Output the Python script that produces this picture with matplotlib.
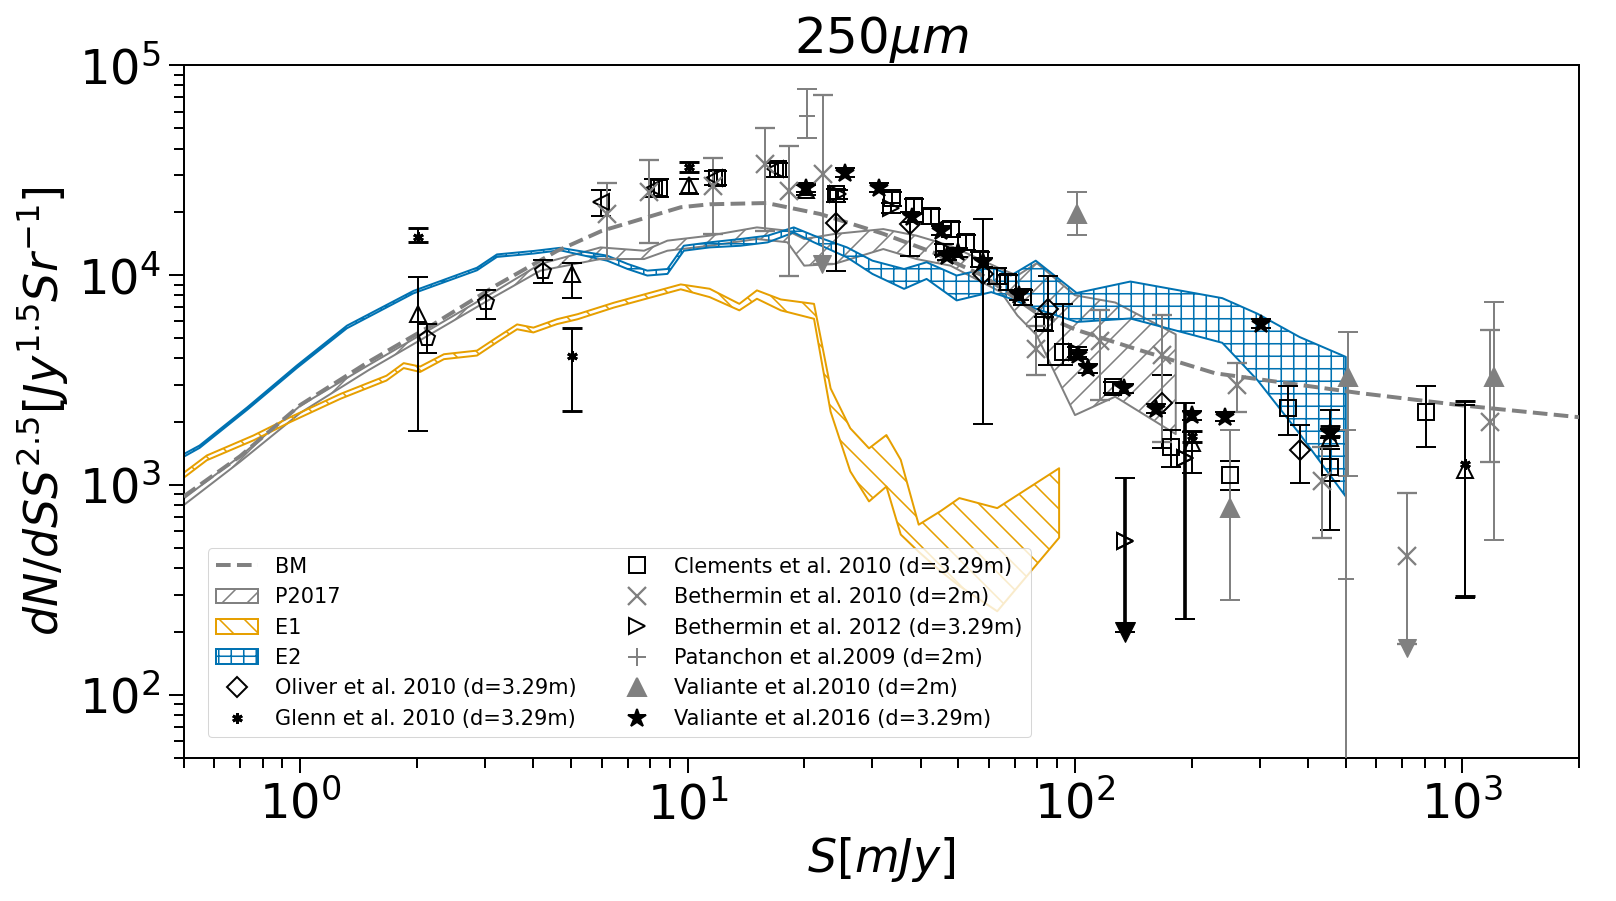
import numpy as np
import matplotlib
matplotlib.use("Agg")
import matplotlib.pyplot as plt
from matplotlib.lines import Line2D

# ---- model curves ----
bm_s = [0.5, 0.7, 1.0, 1.5, 2.2, 3.2, 4.6, 6.0, 9.6, 11.4, 16, 22, 32, 43, 58, 79, 100, 143, 230, 540, 1000, 2000]
bm_n = [880, 1370, 2400, 3850, 5800, 8900, 13000, 16200, 21000, 21700, 22000, 19500, 15700, 12800, 9900, 6650, 5500, 4450, 3400, 2740, 2390, 2100]

p17_s = [0.5, 0.7, 1.0, 1.5, 2.2, 3.16, 4.17, 5.96, 7.72, 8.87, 11.4, 15.1, 18.1, 20, 23.9, 32, 39, 47.7, 64.4, 71, 79.7, 100, 127, 182]
p17_lo = [800, 1290, 2200, 3515, 5300, 7840, 10480, 11910, 11900, 13040, 13770, 14830, 14300, 11070, 11280, 13280, 11900, 11070, 8280, 6410, 5150, 2150, 2630, 1745]
p17_hi = [860, 1370, 2380, 3715, 5600, 8280, 11280, 13520, 13040, 14560, 15380, 16840, 16240, 14830, 15660, 16530, 15380, 13770, 10670, 9930, 11380, 8000, 7390, 5210]

e1_s = [0.5, 0.574, 0.758, 0.942, 1.27, 1.67, 1.85, 2.04, 2.35, 2.86, 3.22, 3.63, 4.0, 4.6, 5.2, 6.45, 9.6, 11.4, 13.6, 15.1, 17.4, 21.2, 23.4, 26.3, 29.4, 32.6, 35.5, 39.5, 45, 50.3, 63, 91]
e1_lo = [1080, 1310, 1630, 1990, 2570, 3140, 3600, 3450, 3970, 4130, 4780, 5510, 5320, 5830, 6150, 6990, 8540, 7840, 6780, 7700, 6780, 6180, 2230, 1160, 834, 982, 580, 480, 388, 330, 250, 560]
e1_hi = [1140, 1380, 1720, 2100, 2710, 3310, 3800, 3660, 4190, 4360, 5040, 5810, 5610, 6150, 6500, 7370, 9010, 8590, 7280, 8440, 7640, 7280, 2880, 1860, 1493, 1727, 1316, 646, 750, 865, 775, 1200]

e2_s = [0.5, 0.55, 0.73, 0.98, 1.32, 1.96, 2.86, 3.22, 4.0, 4.69, 6.2, 7.0, 7.87, 8.87, 9.78, 11.4, 13.7, 16.1, 18.8, 21.2, 25.8, 30, 36.2, 41.4, 49.5, 60.8, 68.3, 79.2, 101, 139, 240, 296, 380, 500]
e2_lo = [1360, 1500, 2280, 3600, 5570, 8170, 10520, 12180, 12640, 13100, 11690, 10670, 9930, 10110, 13040, 13520, 13770, 14290, 15930, 14290, 12120, 10110, 8580, 9570, 7560, 8280, 7700, 6900, 5970, 6200, 4750, 3150, 1750, 880]
e2_hi = [1400, 1540, 2340, 3700, 5730, 8390, 10820, 12520, 13000, 13460, 12350, 11280, 10480, 10670, 13770, 14290, 14830, 15380, 16840, 15380, 13520, 11690, 10670, 11490, 9930, 10870, 9930, 11690, 8200, 9300, 7750, 6530, 5060, 4070]

# ---- measurements: S [mJy], value, lower, upper ----
oli_s = [24.2, 37.6, 58, 85, 168, 380]
oli_n = [17650, 17460, 10110, 6900, 2445, 1465]
oli_lo = [10480, 12350, 1950, 3715, 1493, 1018]
oli_hi = [22130, 19880, 18440, 9860, 3330, 1928]

gle_s = [2.02, 5.04, 10.08, 200, 455, 1014]
gle_n = [15100, 4110, 32800, 1700, 1800, 1253]
gle_lo = [14290, 2245, 31000, 1600, 1700, 295]
gle_hi = [16660, 5600, 34600, 1800, 1900, 2495]

cle_s = [8.46, 11.93, 17.1, 24.2, 33.8, 38.4, 42.5, 47.8, 52.2, 56.7, 63.0, 67, 73.6, 83, 93, 125, 177, 251, 354, 456, 805]
cle_n = [25900, 29100, 31840, 24200, 23120, 21350, 19000, 16530, 14290, 11910, 9930, 9230, 7840, 5970, 4300, 2930, 1520, 1115, 2330, 1222, 2230]
cle_lo = [23390, 26740, 29330, 22290, 21300, 19700, 17500, 15200, 13100, 10900, 9100, 8450, 7150, 5400, 3715, 2750, 1222, 950, 1727, 1040, 1520]
cle_hi = [28580, 31260, 34300, 25770, 24900, 23000, 20500, 17900, 15500, 12900, 10800, 10000, 8500, 6300, 7280, 3100, 1825, 1300, 2965, 1490, 2950]

b10_s = [6.2, 7.93, 11.6, 15.8, 18.3, 22.4, 79.2, 116, 168, 262, 434, 718, 1176]
b10_n = [19490, 24700, 26550, 33640, 25130, 30140, 4450, 4870, 4140, 2985, 1038, 457, 2000]
b10_lo = [11910, 14180, 15660, 16240, 9930, 11280, 3330, 2530, 1607, 2230, 558, 175, 1290]
b10_hi = [27340, 35150, 36060, 50230, 41100, 72300, 5740, 6780, 6410, 3785, 1520, 914, 5480]
b10_lim_s = [22.2, 718]
b10_lim_n = [11280, 168]

b12_s = [24.5, 33.5, 46, 101, 135, 192]
b12_n = [24200, 20940, 13280, 4300, 538, 1340]
b12_lo = [22900, 19800, 12500, 4050, 200, 229]
b12_hi = [25500, 22100, 14100, 4550, 1077, 2450]
b12_lim_s = [135]
b12_lim_n = [200]

pat_s = [20.3, 500]
pat_n = [57400, 356]
pat_lo = [44670, 1]
pat_hi = [76900, 1826]

v10_s = [101, 251, 507, 1206]
v10_n = [19490, 775, 3270, 3270]
v10_lo = [15480, 284, 1100, 548]
v10_hi = [24960, 1825, 5350, 7420]

v16_s = [20.2, 25.5, 31.2, 38, 45.1, 46.8, 50, 58, 71.9, 102, 108, 134, 162, 200, 244, 302, 455]
v16_n = [26080, 30700, 26080, 18790, 16240, 12350, 12800, 11490, 7980, 4170, 3600, 2880, 2310, 2150, 2110, 5850, 1758]

# unlabelled points
tri_s = [2.02, 5.04, 10.08, 20.2, 200, 455, 1014]
tri_n = [6540, 10110, 26740, 25300, 1578, 1680, 1178]
tri_lo = [1800, 7750, 24210, 24000, 1138, 611, 290]
tri_hi = [9815, 11400, 28580, 26700, 1790, 2270, 2400]

pen_s = [2.13, 3.02, 4.24]
pen_n = [5010, 7420, 10480]
pen_lo = [4230, 6140, 9160]
pen_hi = [5810, 8520, 11780]

lt_s = [5.96, 8.2, 11.7, 16.8]
lt_n = [22130, 25900, 29100, 31840]
lt_lo = [19000, 23390, 26740, 29330]
lt_hi = [25410, 28580, 31260, 34300]

GRAY = "#808080"
BLUE = "#0072B2"
ORANGE = "#E69F00"
AST = (6, 2, 0)  # asterisk marker

plt.rcParams["hatch.linewidth"] = 1.5

DPI = 75
fig = plt.figure(figsize=(1616 / DPI, 901 / DPI), dpi=DPI)
ax = fig.add_axes([0.1136, 0.1587, 0.8635, 0.7692])
ax.set_xscale("log")
ax.set_yscale("log")


def band(s, lo, hi, color, hatch, label):
    return ax.fill_between(s, lo, hi, facecolor="none", edgecolor=color,
                           hatch=hatch, lw=1.9, label=label, zorder=2)


def pts(s, n, lo, hi, marker, color, ms=15.5, filled=False, lw=1.9, mew=1.9, z=4):
    s, n, lo, hi = map(np.asarray, (s, n, lo, hi))
    ax.errorbar(s, n, yerr=[n - lo, hi - n], fmt="", marker=marker, linestyle="none",
                color=color, mec=color, mfc=color if filled else "none", ms=ms, mew=mew,
                elinewidth=lw, capsize=10, capthick=lw, zorder=z)


h_p17 = band(p17_s, p17_lo, p17_hi, GRAY, "/", "P2017")
h_e1 = band(e1_s, e1_lo, e1_hi, ORANGE, "\\", "E1")
h_e2 = band(e2_s, e2_lo, e2_hi, BLUE, "+", "E2")
h_bm, = ax.plot(bm_s, bm_n, ls="--", color=GRAY, lw=3.8, zorder=3)

pts(tri_s, tri_n, tri_lo, tri_hi, "^", "k")
pts(pen_s, pen_n, pen_lo, pen_hi, "p", "k")
pts(lt_s, lt_n, lt_lo, lt_hi, "<", "k")
pts(oli_s, oli_n, oli_lo, oli_hi, "D", "k", ms=14)
pts(gle_s, gle_n, gle_lo, gle_hi, AST, "k", ms=10, mew=2.8, filled=True)
pts(cle_s, cle_n, cle_lo, cle_hi, "s", "k")
pts(b10_s, b10_n, b10_lo, b10_hi, "x", GRAY, ms=18, mew=2.2)
ax.plot(b10_lim_s, b10_lim_n, "v", color=GRAY, ms=17, ls="none", zorder=4)
pts(b12_s, b12_n, b12_lo, b12_hi, ">", "k")
pts(b12_s[4:], b12_n[4:], b12_lo[4:], b12_hi[4:], ">", "k", lw=3.5)
ax.plot(b12_lim_s, b12_lim_n, "v", color="k", ms=19, ls="none", zorder=4)
pts(pat_s, pat_n, pat_lo, pat_hi, "+", GRAY, ms=15)
pts(v10_s, v10_n, v10_lo, v10_hi, "^", GRAY, ms=17, filled=True)
v16_n_arr = np.asarray(v16_n)
pts(v16_s, v16_n, v16_n_arr * 0.95, v16_n_arr * 1.05, "*", "k", ms=18, filled=True)

ax.set_xlim(0.5, 2000)
ax.set_ylim(50, 1e5)

ax.tick_params(which="major", length=14, width=1.9, labelsize=46, pad=8,
               direction="out", top=False, right=False)
ax.tick_params(which="minor", length=10, width=1.9, direction="out", top=False, right=False)
for sp in ax.spines.values():
    sp.set_linewidth(1.9)

ax.set_title(r"$250\mu m$", fontsize=48, pad=8)
ax.set_xlabel(r"$S[mJy]$", fontsize=44, labelpad=6)
ax.set_ylabel(r"$dN/dSS^{2.5}[Jy^{1.5}Sr^{-1}]$", fontsize=44, labelpad=8)


def mk(marker, color, ms=15.5, filled=False, mew=1.9):
    return Line2D([], [], ls="none", marker=marker, color=color, mec=color,
                  mfc=color if filled else "none", ms=ms, mew=mew)


handles = [h_bm, h_p17, h_e1, h_e2, mk("D", "k", 14), mk(AST, "k", 10, True, 2.8),
           mk("s", "k"), mk("x", GRAY, 18, mew=2.2), mk(">", "k"), mk("+", GRAY, 17),
           mk("^", GRAY, 17, True), mk("*", "k", 18, True)]
labels = ["BM", "P2017", "E1", "E2",
          "Oliver et al. 2010 (d=3.29m)", "Glenn et al. 2010 (d=3.29m)",
          "Clements et al. 2010 (d=3.29m)", "Bethermin et al. 2010 (d=2m)",
          "Bethermin et al. 2012 (d=3.29m)", "Patanchon et al.2009 (d=2m)",
          "Valiante et al.2010 (d=2m)", "Valiante et al.2016 (d=3.29m)"]
leg = ax.legend(handles, labels, ncol=2, loc="lower left", bbox_to_anchor=(0.01, 0.015),
                fontsize=20, columnspacing=1.9, labelspacing=0.5, handlelength=2.0,
                framealpha=0.8)
leg.set_zorder(10)

fig.savefig("out.png", dpi=DPI)
